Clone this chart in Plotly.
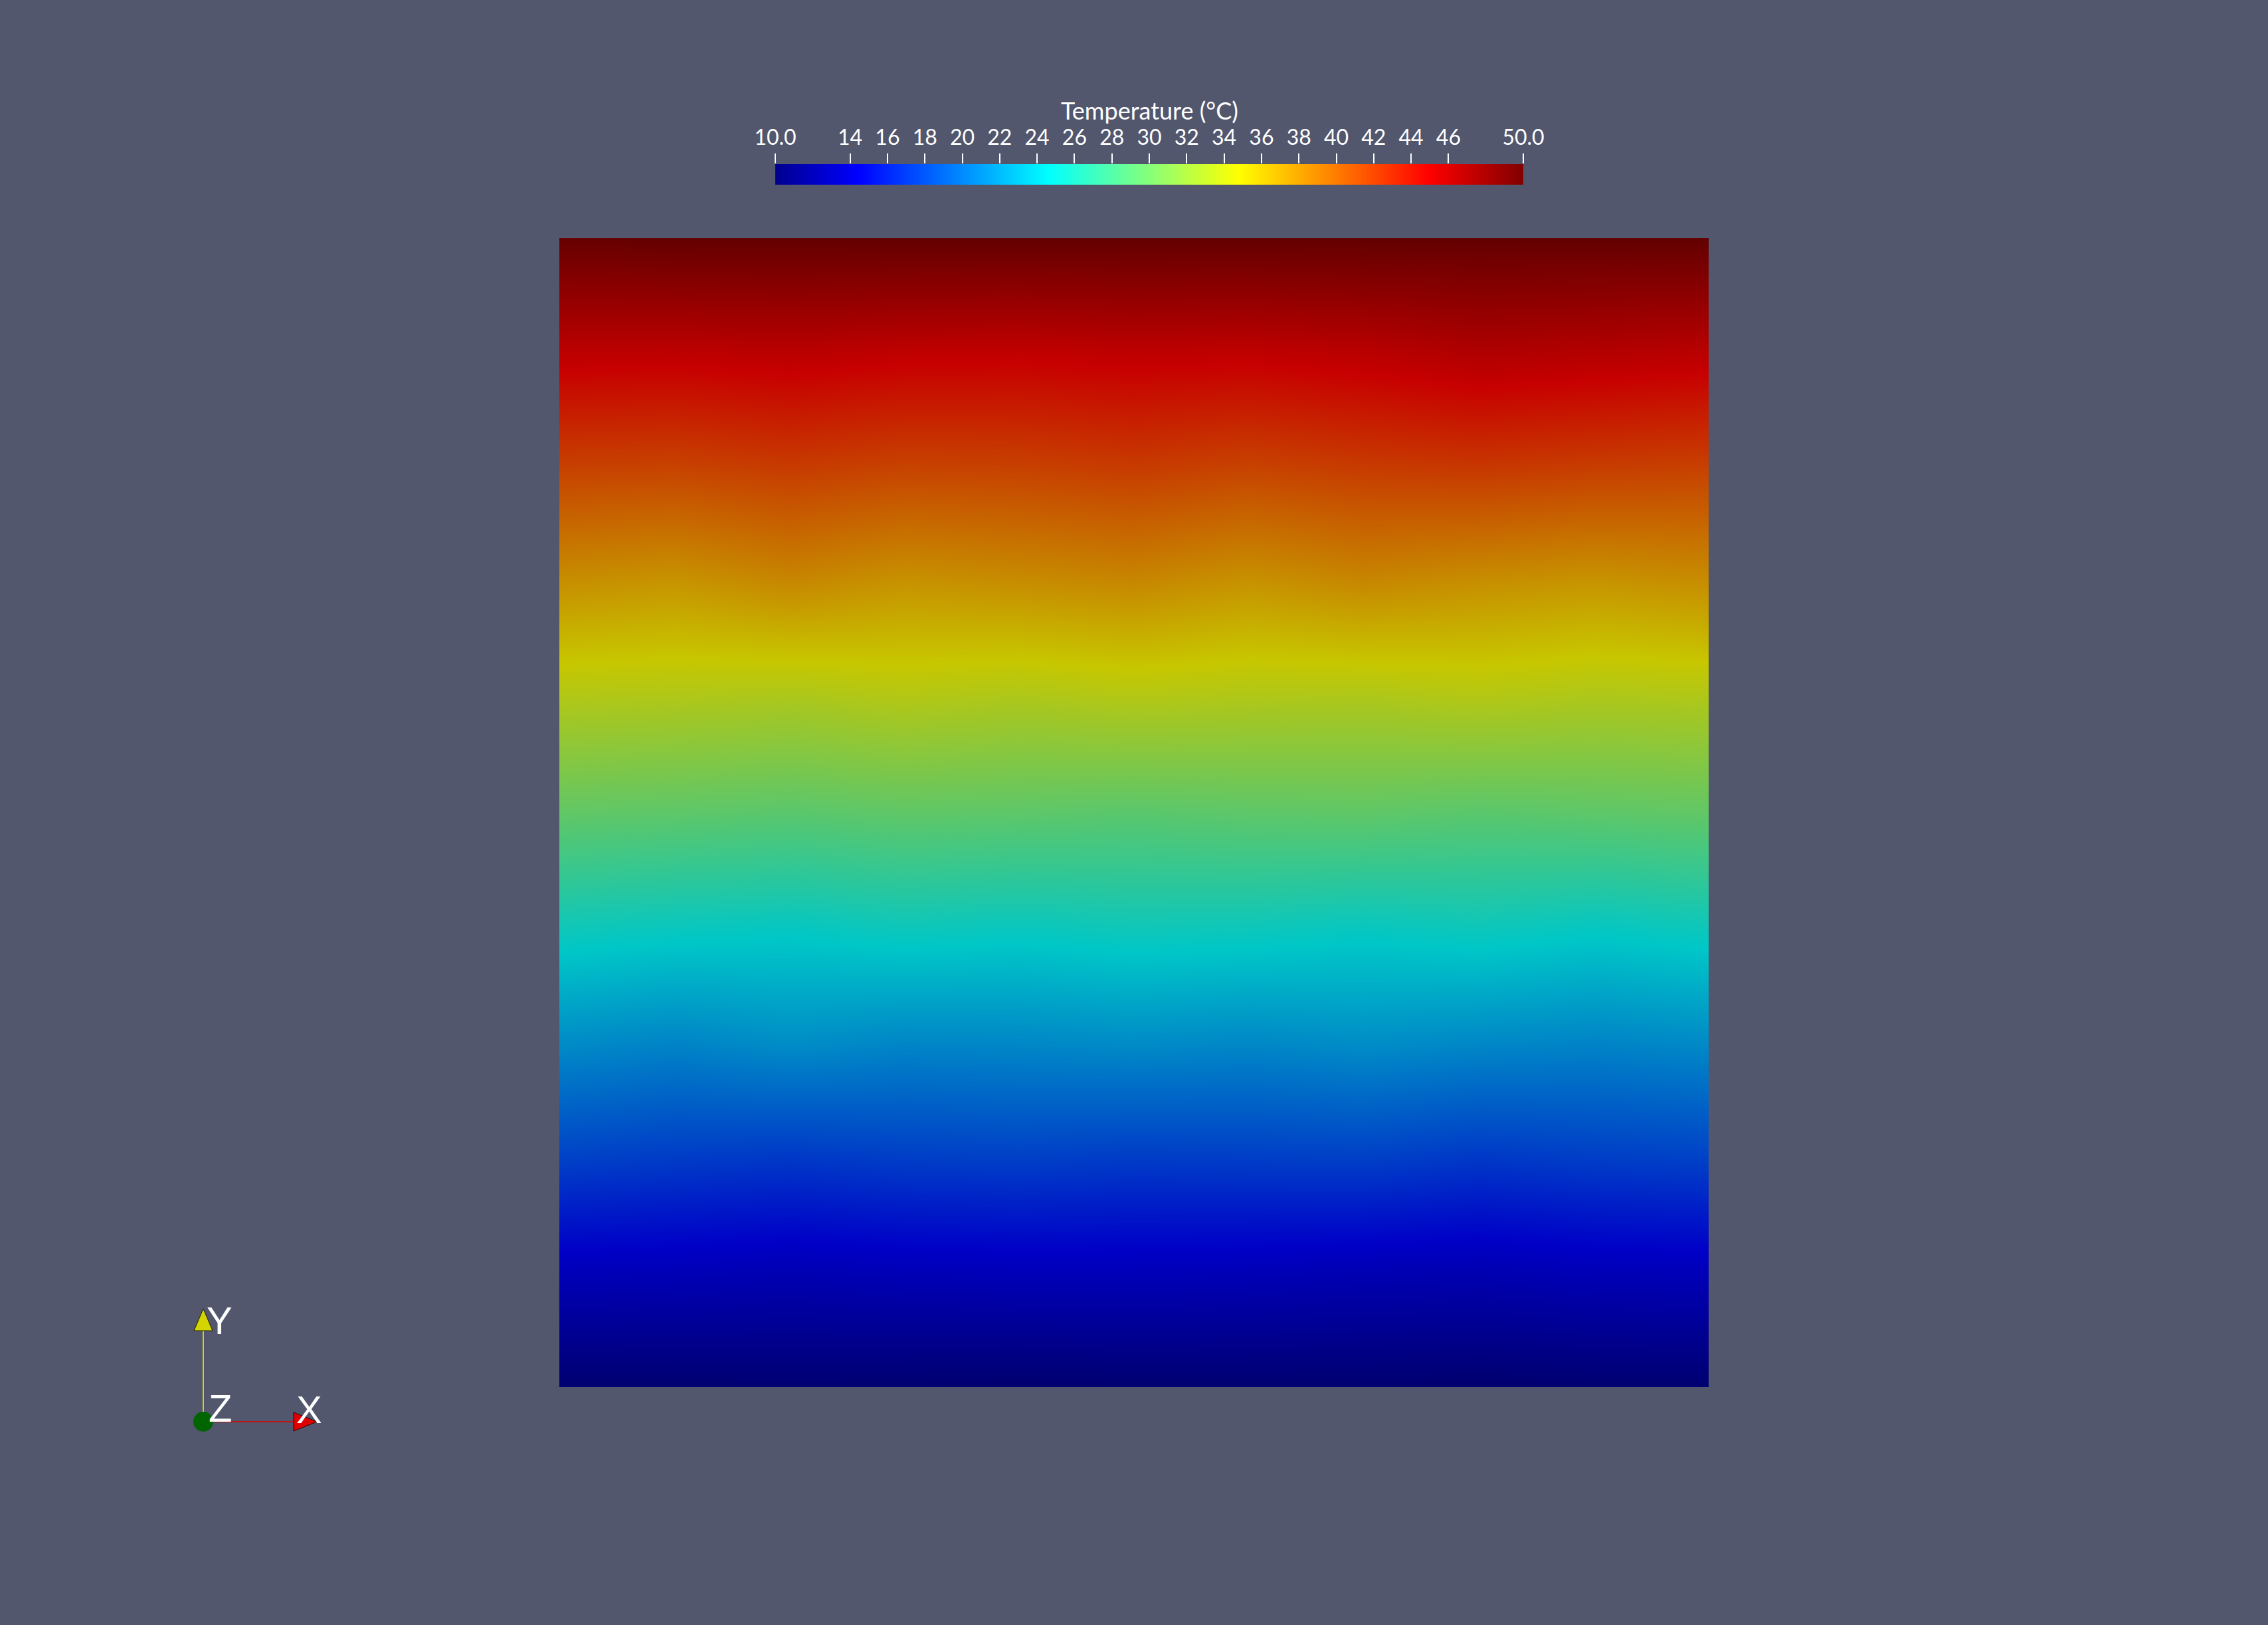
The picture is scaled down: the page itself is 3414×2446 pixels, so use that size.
import plotly.graph_objects as go

# ---------------- data ----------------
temp_min = 10.0
temp_max = 50.0

x_nodes = [0.0, 0.1, 0.2, 0.3, 0.4, 0.5, 0.6, 0.7, 0.8, 0.9, 1.0]
y_nodes = [0.0, 0.1, 0.2, 0.3, 0.4, 0.5, 0.6, 0.7, 0.8, 0.9, 1.0]

# temperature (°C) at mesh nodes, bottom row first
row_y00 = [10.0, 10.0, 10.1, 10.0, 9.9, 10.0, 10.0, 10.0, 9.9, 10.0, 10.0]
row_y01 = [13.7, 13.6, 13.4, 13.6, 13.7, 13.7, 13.6, 13.4, 13.3, 13.6, 13.7]
row_y02 = [17.8, 17.5, 17.3, 17.6, 17.7, 17.5, 17.6, 17.7, 17.3, 17.6, 17.8]
row_y03 = [21.6, 21.2, 21.7, 21.3, 21.4, 21.6, 21.4, 21.7, 21.4, 21.2, 21.5]
row_y04 = [25.4, 25.1, 24.9, 25.3, 25.1, 25.4, 25.3, 25.0, 25.3, 24.9, 25.3]
row_y05 = [29.6, 29.4, 29.2, 29.5, 29.4, 29.2, 29.4, 29.5, 29.2, 29.4, 29.6]
row_y06 = [33.6, 33.5, 33.3, 33.7, 33.4, 33.7, 33.5, 33.4, 33.7, 33.4, 33.5]
row_y07 = [37.6, 37.3, 38.0, 37.4, 37.7, 38.0, 37.4, 38.0, 37.6, 37.3, 37.7]
row_y08 = [41.6, 41.5, 41.9, 41.5, 41.6, 41.9, 41.5, 41.9, 42.1, 41.8, 41.6]
row_y09 = [45.5, 45.4, 45.6, 45.3, 45.2, 45.4, 45.3, 45.6, 46.1, 45.9, 45.6]
row_y10 = [49.8, 50.0, 50.0, 50.0, 50.0, 50.0, 50.0, 50.0, 50.0, 50.0, 50.0]
temperature = [row_y00, row_y01, row_y02, row_y03, row_y04, row_y05,
               row_y06, row_y07, row_y08, row_y09, row_y10]

cb_tickvals = [10, 14, 16, 18, 20, 22, 24, 26, 28, 30, 32, 34, 36, 38, 40, 42, 44, 46, 50]
cb_ticktext = ["10.0", "14", "16", "18", "20", "22", "24", "26", "28", "30", "32",
               "34", "36", "38", "40", "42", "44", "46", "50.0"]
cb_title = "Temperature (°C)"

# ---------------- style ----------------
W, H = 3414, 2446
BG = "#52576e"

jet_stops = [0.0, 0.111111, 0.365079, 0.492063, 0.619048, 0.873016, 1.0]
jet_rgb = [(0, 0, 0.5625), (0, 0, 1), (0, 1, 1), (0.5, 1, 0.5), (1, 1, 0), (1, 0, 0), (0.5, 0, 0)]


def make_scale(k):
    return [[s, "rgb(%d,%d,%d)" % (round(r * 255 * k), round(g * 255 * k), round(b * 255 * k))]
            for s, (r, g, b) in zip(jet_stops, jet_rgb)]


shaded_jet = make_scale(0.78)
bright_jet = make_scale(1.0)


def px_x(p):
    return p / W


def px_y(p):
    return 1 - p / H


# plot square (pixels)
PL, PR, PT, PB = 842, 2572, 358, 2088
# colour bar (pixels)
CL, CR, CT, CB = 1167, 2293, 247, 278

fig = go.Figure()

fig.add_trace(go.Heatmap(
    x=x_nodes, y=y_nodes, z=temperature,
    zmin=temp_min, zmax=temp_max, colorscale=shaded_jet,
    zsmooth="best", showscale=False, hoverinfo="skip",
    xaxis="x", yaxis="y",
))

fig.add_trace(go.Heatmap(
    x=[temp_min, temp_max], y=[0, 1],
    z=[[temp_min, temp_max], [temp_min, temp_max]],
    zmin=temp_min, zmax=temp_max, colorscale=bright_jet,
    zsmooth="best", showscale=False, hoverinfo="skip",
    xaxis="x2", yaxis="y2",
))

label_font = dict(family="Lato, 'Noto Sans', sans-serif", size=32, color="white")

fig.update_layout(
    template="none",
    width=W, height=H, autosize=False,
    margin=dict(l=0, r=0, t=0, b=0, pad=0, autoexpand=False),
    paper_bgcolor=BG, plot_bgcolor=BG,
    showlegend=False,
    xaxis=dict(domain=[px_x(PL), px_x(PR)], range=[0, 1], visible=False,
               fixedrange=True, anchor="y", automargin=False),
    yaxis=dict(domain=[px_y(PB), px_y(PT)], range=[0, 1], visible=False,
               fixedrange=True, anchor="x", automargin=False),
    xaxis2=dict(domain=[px_x(CL), px_x(CR)], range=[temp_min, temp_max], anchor="y2",
                side="top", tickmode="array", tickvals=cb_tickvals, ticktext=cb_ticktext,
                ticks="outside", ticklen=15, tickwidth=1.5, tickcolor="white",
                tickfont=label_font, ticklabelstandoff=0, automargin=False,
                showgrid=False, zeroline=False, showline=False, fixedrange=True),
    yaxis2=dict(domain=[px_y(CB), px_y(CT)], range=[0, 1], visible=False,
                fixedrange=True, anchor="x2", automargin=False),
)

fig.add_annotation(
    x=px_x((CL + CR) / 2), y=px_y(166), xref="paper", yref="paper",
    text=cb_title, showarrow=False, xanchor="center", yanchor="middle",
    font=dict(family="Lato, 'Noto Sans', sans-serif", size=36, color="white"),
)

# ---------------- orientation triad ----------------
OX, OY = 306, 2140
yellow = "#d4d400"
red = "#e00000"
shapes = []
shapes.append(dict(type="line", xref="paper", yref="paper",
                   x0=px_x(OX), y0=px_y(OY), x1=px_x(OX), y1=px_y(2003),
                   line=dict(color=yellow, width=2)))
shapes.append(dict(type="line", xref="paper", yref="paper",
                   x0=px_x(OX), y0=px_y(OY), x1=px_x(443), y1=px_y(OY),
                   line=dict(color=red, width=1.5)))
shapes.append(dict(type="path", xref="paper", yref="paper",
                   path="M %f,%f L %f,%f L %f,%f Z" % (px_x(OX), px_y(1970), px_x(OX - 14), px_y(2003),
                                                    px_x(OX + 14), px_y(2003)),
                   fillcolor=yellow, line=dict(color="#202000", width=1)))
shapes.append(dict(type="path", xref="paper", yref="paper",
                   path="M %f,%f L %f,%f L %f,%f Z" % (px_x(477), px_y(OY), px_x(442), px_y(OY - 14),
                                                    px_x(442), px_y(OY + 14)),
                   fillcolor=red, line=dict(color="#300000", width=1)))
shapes.append(dict(type="circle", xref="paper", yref="paper",
                   x0=px_x(OX - 15), x1=px_x(OX + 15), y0=px_y(OY + 15), y1=px_y(OY - 15),
                   fillcolor="#006400", line=dict(color="#006400", width=0)))
fig.update_layout(shapes=shapes)

axis_font = dict(family="Liberation Sans, Arial, sans-serif", size=58, color="white")
for txt, ax, ay in [("Y", 330, 1987), ("Z", 331, 2119), ("X", 466, 2121)]:
    fig.add_annotation(x=px_x(ax), y=px_y(ay), xref="paper", yref="paper", text=txt,
                       showarrow=False, xanchor="center", yanchor="middle", font=axis_font)

fig.write_html("out.html")
